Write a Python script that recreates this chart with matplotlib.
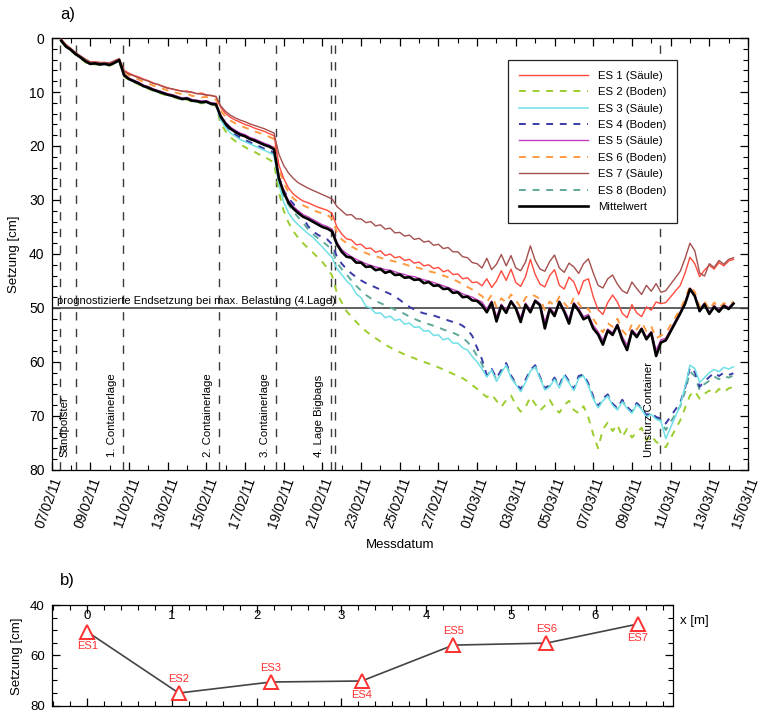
import numpy as np
import matplotlib
matplotlib.use("Agg")
import matplotlib.pyplot as plt
from matplotlib.ticker import MultipleLocator, FixedLocator
from matplotlib.lines import Line2D

plt.rcParams['font.family'] = ['Liberation Sans', 'DejaVu Sans']

# ---------------- data: panel a) -----------------
# measurement times, days after 07/02/2011 00:00 (gap around the container collapse)
t_days = np.concatenate([np.arange(0.5, 31.76, 0.25), np.arange(32.5, 35.26, 0.25)])

es1 = [0.3, 1.3, 2.0, 2.8, 3.4, 4.0, 4.5, 4.4, 4.6, 4.5, 4.7, 4.3, 3.9, 6.0, 6.5, 6.9, 7.2, 7.6, 7.9, 8.3, 8.6, 8.9, 9.2, 9.5, 9.6, 9.9, 9.8, 10.1, 10.3, 10.2, 10.5, 10.7, 10.8,
       12.9, 14.0, 14.7, 15.2, 15.6, 16.0, 16.3, 16.7, 17.0, 17.3, 17.7, 18.1,
       23.5, 26.0, 27.8, 28.9, 29.6, 30.2, 30.5, 30.9, 31.3, 31.6, 31.9, 32.5,
       35.0, 36.3, 37.2, 37.4, 38.3, 38.2, 39.0, 38.9, 39.7, 39.4, 40.3, 40.0, 40.7, 40.5, 41.2, 41.0, 41.7, 41.5, 42.2, 42.0, 42.7, 42.5, 43.3, 43.0, 43.8, 43.7, 44.6, 44.4, 45.3, 45.2, 45.9,
       44.6, 46.2, 45.0, 43.1, 44.9, 42.8, 45.3, 46.0, 44.2, 41.0, 43.8, 45.6, 46.1, 44.0, 42.9, 45.8, 46.5, 44.3, 45.2, 47.5, 45.0, 44.6, 47.9, 50.3, 51.2, 49.0, 47.6, 48.9, 51.0, 51.8, 49.4, 50.9, 51.6, 49.8, 50.4, 48.9, 49.2, 49.0,
       45.8, 43.5, 40.6, 41.8, 44.2, 43.0, 42.1, 42.8, 41.6, 42.2, 41.3, 41.0]

es2 = [0.6, 1.7, 2.3, 3.1, 3.8, 4.5, 4.9, 4.9, 5.0, 5.0, 5.1, 4.8, 4.3, 7.1, 7.8, 8.2, 8.6, 9.1, 9.4, 9.8, 10.1, 10.4, 10.7, 10.9, 11.2, 11.5, 11.4, 11.8, 11.9, 12.1, 12.0, 12.4, 12.5,
       15.8, 17.3, 18.4, 19.1, 19.7, 20.2, 20.7, 21.1, 21.6, 22.0, 22.5, 23.1,
       28.5, 32.0, 34.2, 35.8, 37.0, 38.0, 38.9, 39.7, 40.6, 41.5, 42.6, 44.0,
       47.2, 49.0, 50.6, 51.6, 52.6, 53.5, 54.3, 55.0, 55.6, 56.2, 56.8, 57.3, 57.8, 58.2, 58.6, 59.0, 59.3, 59.7, 60.0, 60.3, 60.7, 61.0, 61.4, 61.8, 62.2, 62.6, 63.0, 63.6, 64.3, 65.0, 65.8,
       66.5, 66.0, 67.2, 68.3, 67.1, 66.2, 68.0, 69.2, 68.4, 66.5, 67.8, 69.0, 68.1, 67.0, 68.6, 69.4, 68.0, 67.2, 68.9, 69.5, 68.2, 70.3, 73.4, 76.0, 72.5, 71.2, 72.8, 71.6, 73.9, 72.4, 74.0, 73.0, 72.2, 74.5, 73.6, 74.8, 75.3, 75.8,
       70.8, 68.5, 66.2, 65.4, 66.8, 65.9, 65.3, 66.0, 65.0, 65.6, 64.9, 64.6]

es3 = [0.5, 1.6, 2.2, 3.0, 3.7, 4.3, 4.8, 4.8, 4.9, 4.9, 5.0, 4.7, 4.2, 7.0, 7.7, 8.1, 8.5, 9.0, 9.3, 9.7, 10.0, 10.3, 10.6, 10.8, 11.1, 11.4, 11.3, 11.7, 11.8, 12.0, 11.9, 12.3, 12.4,
       15.2, 16.6, 17.6, 18.2, 18.8, 19.2, 19.6, 20.0, 20.4, 20.8, 21.2, 21.7,
       27.0, 30.4, 32.4, 33.7, 34.6, 35.4, 36.2, 36.9, 37.8, 38.7, 39.7, 40.6,
       42.7, 43.8, 45.0, 45.8, 47.4, 48.1, 49.7, 50.0, 51.0, 50.9, 51.8, 51.5, 52.3, 52.1, 53.0, 52.8, 53.6, 53.5, 54.3, 54.2, 55.1, 55.0, 55.9, 55.6, 56.5, 56.5, 57.4, 57.8, 59.0, 60.0, 61.3,
       62.8, 61.5, 63.6, 62.0, 60.6, 62.9, 64.2, 65.5, 63.8, 61.7, 60.9, 63.0, 65.2, 64.6, 63.2, 64.8, 62.5, 63.9, 65.3, 63.0, 62.6, 64.4, 66.8, 68.5, 67.2, 66.3, 68.0, 68.9, 67.4, 68.6, 69.5, 67.9, 68.8, 70.2, 69.7, 70.6, 71.0, 74.2,
       68.0, 64.5, 60.6, 61.2, 63.8, 62.9, 62.0, 61.4, 61.8, 61.0, 61.3, 60.9]

es4 = [0.4, 1.5, 2.1, 2.9, 3.5, 4.2, 4.7, 4.6, 4.8, 4.7, 4.9, 4.5, 4.0, 6.8, 7.5, 7.9, 8.3, 8.8, 9.1, 9.5, 9.8, 10.1, 10.4, 10.6, 10.9, 11.2, 11.1, 11.5, 11.6, 11.8, 11.7, 12.1, 12.2,
       14.9, 16.2, 17.2, 17.9, 18.4, 18.9, 19.3, 19.7, 20.1, 20.5, 20.8, 21.2,
       25.8, 28.2, 29.7, 30.7, 32.0, 33.2, 34.8, 35.8, 36.4, 36.9, 37.3, 38.2,
       40.5, 41.8, 42.8, 43.6, 44.3, 44.9, 45.4, 45.8, 46.2, 46.6, 47.0, 47.4, 47.9, 48.5, 49.2, 49.8, 50.3, 50.7, 51.0, 51.2, 51.4, 51.7, 52.0, 52.3, 52.6, 52.8, 53.3, 54.0, 55.2, 57.4, 59.5,
       62.5, 61.3, 63.0, 61.5, 60.2, 62.5, 64.0, 65.0, 63.3, 61.5, 60.6, 62.8, 64.9, 64.2, 62.9, 64.4, 62.2, 63.6, 65.0, 62.6, 62.3, 64.0, 66.4, 68.2, 66.8, 66.0, 67.7, 68.6, 67.0, 68.3, 69.2, 67.6, 68.5, 69.8, 69.4, 70.2, 70.5, 71.4,
       67.5, 64.8, 61.0, 61.9, 64.6, 63.6, 62.8, 62.0, 62.6, 62.0, 62.4, 62.1]

es5 = [0.4, 1.5, 2.1, 2.9, 3.5, 4.2, 4.7, 4.6, 4.8, 4.7, 4.9, 4.5, 4.0, 6.7, 7.4, 7.8, 8.2, 8.7, 9.0, 9.4, 9.7, 10.0, 10.3, 10.5, 10.8, 11.1, 11.0, 11.4, 11.5, 11.7, 11.6, 12.0, 12.1,
       14.3, 15.6, 16.5, 17.1, 17.6, 17.9, 18.4, 18.7, 19.1, 19.5, 19.8, 20.3,
       25.6, 28.2, 30.1, 31.2, 32.0, 32.7, 33.1, 33.6, 34.1, 34.6, 34.9, 35.4,
       37.8, 39.2, 39.9, 40.5, 41.0, 41.4, 41.8, 42.1, 42.4, 42.6, 42.9, 43.0, 43.3, 43.6, 43.8, 44.1, 44.2, 44.5, 44.8, 45.0, 45.3, 45.6, 45.9, 46.2, 46.6, 46.9, 47.4, 47.7, 48.0, 48.5, 48.9,
       50.2, 48.7, 51.6, 49.3, 50.4, 48.6, 49.8, 51.8, 49.1, 50.3, 48.5, 49.2, 52.6, 49.9, 51.0, 48.7, 50.3, 52.1, 49.0, 50.1, 51.6, 51.2, 53.2, 54.4, 56.0, 53.9, 54.6, 53.0, 55.3, 56.9, 54.0, 55.0, 53.7, 55.4, 54.4, 57.8, 55.9, 55.6,
       50.7, 48.9, 46.3, 47.5, 50.3, 49.1, 50.8, 49.5, 50.4, 49.4, 49.9, 49.0]

es6 = [0.3, 1.4, 2.1, 2.9, 3.5, 4.1, 4.6, 4.5, 4.7, 4.6, 4.8, 4.4, 4.0, 6.3, 6.9, 7.3, 7.7, 8.1, 8.4, 8.8, 9.1, 9.4, 9.7, 9.9, 10.2, 10.4, 10.3, 10.7, 10.8, 11.0, 10.9, 11.3, 11.4,
       13.5, 14.6, 15.3, 15.8, 16.2, 16.6, 16.9, 17.3, 17.6, 17.9, 18.3, 18.7,
       24.2, 26.8, 28.6, 29.7, 30.4, 31.0, 31.4, 31.8, 32.2, 32.5, 32.8, 33.4,
       36.0, 37.3, 38.0, 38.6, 39.1, 39.5, 39.8, 40.2, 40.4, 40.7, 41.0, 41.2, 41.4, 41.7, 41.9, 42.2, 42.4, 42.6, 42.9, 43.2, 43.4, 43.7, 44.0, 44.3, 44.7, 45.1, 45.6, 46.1, 46.6, 47.2, 47.8,
       48.9, 47.6, 49.8, 48.2, 49.0, 47.5, 48.6, 49.9, 48.1, 47.4, 47.8, 48.3, 50.4, 48.8, 49.6, 47.9, 49.1, 50.2, 48.0, 49.2, 50.5, 50.1, 52.0, 53.4, 54.5, 52.8, 53.5, 52.0, 54.1, 55.2, 53.0, 54.0, 52.6, 54.3, 53.4, 55.6, 55.1, 54.7,
       50.2, 48.4, 45.9, 47.0, 49.8, 48.7, 50.3, 49.0, 50.0, 49.1, 49.6, 48.8]

es7 = [0.2, 1.2, 1.9, 2.7, 3.3, 3.9, 4.4, 4.5, 4.5, 4.6, 4.6, 4.2, 3.8, 6.1, 6.7, 7.0, 7.4, 7.7, 8.0, 8.4, 8.6, 9.0, 9.3, 9.4, 9.7, 9.8, 10.0, 10.0, 10.3, 10.4, 10.6, 10.6, 10.9,
       12.6, 13.6, 14.3, 14.8, 15.2, 15.5, 15.9, 16.2, 16.5, 16.8, 17.2, 17.6,
       21.5, 23.6, 25.0, 26.0, 26.8, 27.3, 27.8, 28.2, 28.6, 29.0, 29.4, 29.8,
       31.2, 32.0, 32.8, 32.7, 33.5, 33.5, 34.2, 34.0, 34.8, 34.6, 35.4, 35.2, 36.1, 36.0, 36.7, 36.5, 37.3, 37.1, 37.8, 37.6, 38.4, 38.2, 39.0, 38.8, 39.6, 39.6, 40.5, 40.7, 41.6, 41.8, 42.6,
       40.8, 42.9, 41.9, 40.1, 42.2, 40.3, 42.6, 43.1, 41.5, 38.5, 41.2, 42.8, 43.2, 41.4, 40.2, 42.6, 43.4, 41.7, 42.4, 43.6, 41.8, 40.9, 43.5, 45.8, 46.3, 44.6, 43.9, 45.6, 46.8, 47.3, 45.2, 46.4, 47.5, 45.8, 46.9, 45.5, 47.1, 46.8,
       43.2, 40.8, 38.0, 39.4, 43.5, 44.1, 41.8, 42.5, 41.2, 41.9, 41.0, 40.7]

es8 = [0.5, 1.6, 2.2, 3.0, 3.6, 4.3, 4.8, 4.7, 4.9, 4.8, 5.0, 4.6, 4.1, 6.9, 7.6, 8.0, 8.4, 8.9, 9.2, 9.6, 9.9, 10.2, 10.5, 10.7, 11.0, 11.3, 11.2, 11.6, 11.7, 11.9, 11.8, 12.2, 12.3,
       15.0, 16.4, 17.4, 18.0, 18.6, 19.0, 19.4, 19.8, 20.2, 20.6, 21.0, 21.5,
       26.4, 29.2, 30.9, 32.1, 33.2, 34.2, 35.4, 36.3, 37.0, 37.7, 38.4, 39.3,
       41.6, 42.8, 43.8, 44.9, 45.9, 46.8, 47.6, 48.2, 48.7, 49.1, 49.5, 49.9, 50.3, 50.7, 51.1, 51.6, 52.0, 52.4, 52.7, 53.0, 53.3, 53.6, 54.0, 54.3, 54.6, 55.0, 55.5, 56.3, 57.4, 58.9, 60.4,
       62.6, 61.4, 63.3, 61.8, 60.4, 62.7, 64.1, 65.2, 63.5, 61.6, 60.8, 62.9, 65.0, 64.4, 63.0, 64.6, 62.3, 63.7, 65.1, 62.8, 62.4, 64.2, 66.6, 68.3, 67.0, 66.1, 67.8, 68.7, 67.2, 68.4, 69.3, 67.7, 68.6, 70.0, 69.5, 70.4, 70.8, 72.6,
       68.2, 65.5, 61.8, 62.6, 65.2, 64.1, 63.5, 62.7, 63.2, 62.6, 62.9, 62.5]

mittelwert = [0.5, 1.6, 2.2, 3.0, 3.6, 4.3, 4.8, 4.7, 4.9, 4.8, 5.0, 4.6, 4.1, 6.9, 7.6, 8.0, 8.4, 8.9, 9.2, 9.6, 9.9, 10.2, 10.5, 10.7, 11.0, 11.3, 11.2, 11.6, 11.7, 11.9, 11.8, 12.2, 12.3,
              14.6, 15.9, 16.8, 17.4, 17.9, 18.2, 18.7, 19.0, 19.4, 19.8, 20.1, 20.6,
              26.0, 28.6, 30.5, 31.6, 32.4, 33.1, 33.5, 34.0, 34.5, 35.0, 35.3, 35.8,
              38.2, 39.6, 40.5, 40.7, 41.6, 41.6, 42.4, 42.3, 43.0, 42.8, 43.5, 43.2, 43.9, 43.8, 44.4, 44.3, 44.8, 44.7, 45.4, 45.2, 45.9, 45.8, 46.5, 46.4, 47.2, 47.1, 48.0, 47.9, 48.6, 48.7, 49.5,
              50.8, 49.0, 52.5, 49.6, 50.9, 48.8, 50.1, 52.6, 49.4, 50.8, 48.7, 49.5, 53.8, 50.2, 51.5, 48.9, 50.7, 52.9, 49.3, 50.5, 52.1, 51.6, 53.8, 54.9, 56.8, 54.2, 55.0, 53.2, 55.9, 57.8, 54.3, 55.4, 53.9, 55.8, 54.6, 58.9, 56.4, 56.0,
              51.0, 49.2, 46.5, 47.8, 50.6, 49.3, 51.1, 49.8, 50.7, 49.6, 50.2, 49.2]

series_labels = ["ES 1 (Säule)", "ES 2 (Boden)", "ES 3 (Säule)", "ES 4 (Boden)",
                 "ES 5 (Säule)", "ES 6 (Boden)", "ES 7 (Säule)", "ES 8 (Boden)", "Mittelwert"]

date_labels = ["07/02/11", "09/02/11", "11/02/11", "13/02/11", "15/02/11", "17/02/11", "19/02/11",
               "21/02/11", "23/02/11", "25/02/11", "27/02/11", "01/03/11", "03/03/11", "05/03/11",
               "07/03/11", "09/03/11", "11/03/11", "13/03/11", "15/03/11"]

# construction events (days after 07/02/2011)
event_days = [0.44, 1.27, 3.72, 8.66, 11.6, 14.43, 14.65, 31.45]
event_text_days = [1.27, 3.72, 8.66, 11.6, 14.43, 31.45]
event_texts = ["Sandpolster", "1. Containerlage", "2. Containerlage", "3. Containerlage",
               "4. Lage Bigbags", "Umsturz Container"]
prognose = 50.0
prognose_text = "prognostizierte Endsetzung bei max. Belastung (4.Lage)"

# ---------------- data: panel b) -----------------
b_x = [0.0, 1.08, 2.17, 3.24, 4.32, 5.42, 6.5]
b_val = [50.6, 75.0, 70.6, 70.2, 55.9, 55.1, 47.5]
b_names = ["ES1", "ES2", "ES3", "ES4", "ES5", "ES6", "ES7"]
b_label_above = [False, True, True, False, True, True, False]

# ---------------- figure -----------------
fig = plt.figure(figsize=(7.6, 7.12), dpi=100)
ax = fig.add_axes([0.0678, 0.340, 0.9164, 0.6066])

styles = {
    "es1": dict(color="#ff4a3d", lw=1.0, ls="-"),
    "es2": dict(color="#9ccc2e", lw=1.4, ls=(0, (3.5, 3.5))),
    "es3": dict(color="#6fe0e6", lw=1.1, ls="-"),
    "es4": dict(color="#3a3aa8", lw=1.4, ls=(0, (3.5, 3.5))),
    "es5": dict(color="#c23fc2", lw=1.0, ls="-"),
    "es6": dict(color="#ff9a40", lw=1.4, ls=(0, (3.5, 3.5))),
    "es7": dict(color="#a3504e", lw=1.0, ls="-"),
    "es8": dict(color="#5fa898", lw=1.4, ls=(0, (3.5, 3.5))),
    "mw": dict(color="#000000", lw=1.9, ls="-"),
}
data = {"es1": es1, "es2": es2, "es3": es3, "es4": es4, "es5": es5,
        "es6": es6, "es7": es7, "es8": es8, "mw": mittelwert}
keys = ["es1", "es2", "es3", "es4", "es5", "es6", "es7", "es8", "mw"]
draw_order = ["es2", "es8", "es4", "es3", "es5", "es6", "es1", "es7", "mw"]

for k in draw_order:
    v = np.asarray(data[k], dtype=float)
    n = min(len(v), len(t_days))
    ax.plot(t_days[:n], v[:n], **styles[k], zorder=3)

# event lines
for d in event_days:
    ax.axvline(d, color="#3a3a3a", lw=1.0, ls=(0, (6, 6)), zorder=2)
for d, txt in zip(event_text_days, event_texts):
    ax.text(d - 0.58, 77.6, txt, rotation=90, ha="center", va="bottom", fontsize=8.2, zorder=4)

ax.axhline(prognose, color="#444444", lw=1.2, zorder=2)
ax.text(0.3, prognose - 0.4, prognose_text, fontsize=8.0, ha="left", va="bottom", zorder=4)

ax.set_xlim(0, 36)
ax.set_ylim(80, 0)
ax.xaxis.set_major_locator(FixedLocator(np.arange(0, 37, 2)))
ax.xaxis.set_minor_locator(MultipleLocator(1))
ax.set_xticklabels(date_labels, rotation=70, ha="right", va="top", rotation_mode="anchor")
ax.yaxis.set_major_locator(MultipleLocator(10))
ax.yaxis.set_minor_locator(MultipleLocator(2))
ax.tick_params(which="both", direction="in", top=True, right=True, labelsize=10)
ax.tick_params(which="major", length=6, width=0.9)
ax.tick_params(which="minor", length=3.5, width=0.8)
ax.tick_params(axis="x", pad=4)
ax.tick_params(axis="y", pad=5)
for s in ax.spines.values():
    s.set_linewidth(0.9)

handles = [Line2D([], [], **styles[k]) for k in keys]
leg = ax.legend(handles, series_labels, loc="upper right", bbox_to_anchor=(0.898, 0.949),
                borderaxespad=0, fontsize=8.2, handlelength=6.0, handletextpad=0.9,
                labelspacing=0.56, borderpad=0.95, fancybox=False, framealpha=1)
leg.get_frame().set_edgecolor("#222222")
leg.get_frame().set_linewidth(0.9)

fig.text(400 / 760, 1 - 545 / 712, "Messdatum", ha="center", va="center", fontsize=9.5)
fig.text(14 / 760, 1 - 254 / 712, "Setzung [cm]", ha="center", va="center", rotation=90, fontsize=9.5)
fig.text(60 / 760, 1 - 14 / 712, "a)", ha="left", va="center", fontsize=12)

# ---------------- panel b -----------------
bx = fig.add_axes([0.068, 0.009, 0.817, 0.141])
bx.plot(b_x, b_val, color="#444444", lw=1.2, zorder=2)
bx.plot(b_x, b_val, ls="none", marker="^", ms=10, mfc="white", mec="#ff3030", mew=1.4, zorder=3)
for xv, yv, name, above in zip(b_x, b_val, b_names, b_label_above):
    if above:
        bx.annotate(name, (xv, yv), xytext=(0, 6.5), textcoords="offset points",
                    ha="center", va="bottom", color="#ff3030", fontsize=8)
    else:
        bx.annotate(name, (xv, yv), xytext=(0, -6.5), textcoords="offset points",
                    ha="center", va="top", color="#ff3030", fontsize=8)
bx.set_xlim(-0.42, 6.91)
bx.set_ylim(80, 40)
bx.xaxis.set_ticks_position("both")
bx.xaxis.set_label_position("top")
bx.tick_params(axis="x", labeltop=True, labelbottom=False)
bx.xaxis.set_major_locator(MultipleLocator(1))
bx.xaxis.set_minor_locator(MultipleLocator(0.2))
bx.yaxis.set_major_locator(MultipleLocator(20))
bx.yaxis.set_minor_locator(MultipleLocator(5))
bx.tick_params(which="both", direction="in", top=True, bottom=True, right=True, labelsize=9.5)
bx.tick_params(which="major", length=6, width=0.9)
bx.tick_params(which="minor", length=3.5, width=0.8)
bx.tick_params(axis="x", pad=-12)
bx.tick_params(axis="y", pad=5)
for s in bx.spines.values():
    s.set_linewidth(0.9)
bx.annotate("x [m]", xy=(1.012, 0.84), xycoords="axes fraction", ha="left", va="center", fontsize=9.5)
fig.text(17 / 760, 1 - 656 / 712, "Setzung [cm]", ha="center", va="center", rotation=90, fontsize=9.5)
fig.text(60 / 760, 1 - 580 / 712, "b)", ha="left", va="center", fontsize=12)

fig.savefig("out.png", dpi=100)
